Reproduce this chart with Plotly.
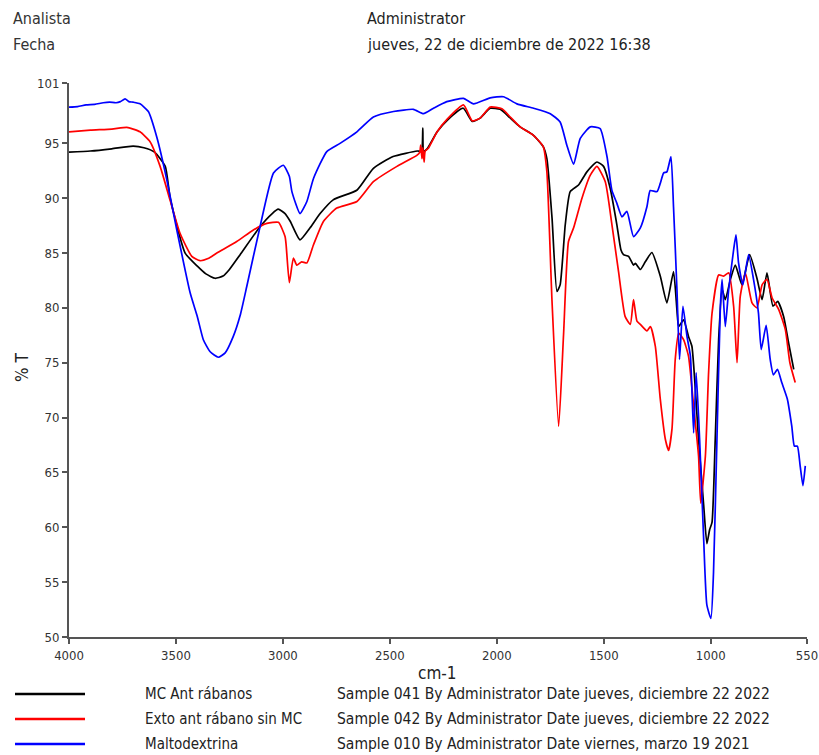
import plotly.graph_objects as go

# ---- FTIR spectra (wavenumber in cm-1, transmittance in %T) ----
mc_wn = [4000, 3900, 3800, 3700, 3650, 3600, 3550, 3527, 3457, 3400, 3360, 3317, 3280, 3250,
         3200, 3107, 3050, 3022, 2990, 2966, 2920, 2873, 2826, 2765, 2653, 2578, 2485, 2372,
         2352, 2346, 2342, 2326, 2279, 2232, 2157, 2115, 2078, 2031, 1984, 1937, 1891, 1830,
         1783, 1766, 1742, 1719, 1704, 1680, 1657, 1618, 1579, 1532, 1501, 1470, 1439, 1420,
         1408, 1384, 1361, 1352, 1329, 1306, 1275, 1236, 1205, 1174, 1158, 1150, 1127, 1104,
         1088, 1057, 1033, 1018, 1005, 994, 979, 963, 947, 932, 908, 885, 854, 818, 784, 760,
         737, 709, 687, 659, 636, 612]
mc_t = [94.2, 94.3, 94.5, 94.75, 94.6, 94.2, 92.9, 90.0, 85.0, 83.8, 83.1, 82.7, 82.9, 83.5,
        84.85, 87.4, 88.6, 89.0, 88.6, 87.9, 86.2, 87.3, 88.6, 89.85, 90.75, 92.7, 93.8, 94.3,
        94.3, 96.4, 94.3, 94.5, 96.05, 97.1, 98.2, 97.0, 97.3, 98.2, 98.1, 97.3, 96.5, 95.75,
        94.7, 93.6, 88.2, 81.5, 82.1, 87.6, 90.6, 91.2, 92.4, 93.3, 92.9, 90.9, 87.6, 85.3,
        84.85, 84.7, 83.9, 84.05, 83.5, 84.2, 85.05, 82.9, 80.45, 83.3, 79.8, 78.3, 78.9, 77.4,
        76.5, 68.0, 62.0, 58.5, 59.8, 60.45, 68.0, 77.1, 81.7, 80.75, 82.6, 83.9, 82.1, 84.85,
        82.7, 80.75, 83.2, 80.15, 80.6, 79.2, 76.8, 74.4]

ext_wn = [4000, 3900, 3800, 3730, 3700, 3668, 3621, 3574, 3528, 3481, 3426, 3387, 3350, 3309,
          3216, 3138, 3075, 3021, 2990, 2985, 2970, 2951, 2935, 2912, 2888, 2857, 2810, 2748,
          2654, 2577, 2467, 2374, 2360, 2356, 2350, 2346, 2340, 2335, 2320, 2279, 2232, 2156,
          2115, 2078, 2031, 1976, 1937, 1891, 1830, 1783, 1766, 1742, 1711, 1688, 1665, 1641,
          1602, 1563, 1532, 1493, 1462, 1431, 1400, 1376, 1361, 1345, 1329, 1298, 1282, 1259,
          1236, 1212, 1197, 1181, 1166, 1150, 1127, 1104, 1080, 1057, 1047, 1025, 1010, 994,
          963, 940, 916, 893, 877, 862, 838, 807, 784, 760, 737, 713, 682, 651, 630, 605]
ext_t = [96.05, 96.2, 96.3, 96.45, 96.3, 96.05, 95.15, 92.9, 89.85, 86.8, 84.7, 84.3, 84.5, 85.0,
         86.05, 87.1, 87.7, 87.8, 86.5, 85.75, 82.3, 84.55, 83.9, 84.2, 84.1, 85.75, 87.9, 89.1,
         89.7, 91.5, 92.9, 93.9, 94.2, 94.85, 93.6, 94.6, 93.3, 94.3, 94.55, 96.05, 97.2, 98.5,
         97.05, 97.3, 98.3, 98.15, 97.4, 96.5, 95.75, 94.7, 92.4, 80.6, 69.2, 77.6, 86.05, 87.3,
         90.0, 92.1, 92.9, 91.5, 87.6, 83.3, 79.2, 78.5, 80.75, 78.8, 78.5, 77.9, 78.3, 76.5,
         71.7, 68.0, 67.0, 69.0, 75.3, 77.7, 77.1, 75.6, 71.05, 66.5, 62.2, 66.5, 74.1, 79.5,
         83.0, 82.9, 83.2, 80.15, 75.0, 81.05, 83.2, 80.45, 80.0, 82.1, 82.6, 80.9, 79.85, 78.0,
         75.0, 73.2]

malto_wn = [4000, 3960, 3920, 3880, 3840, 3810, 3780, 3760, 3738, 3720, 3700, 3668, 3629, 3590,
            3543, 3496, 3434, 3400, 3372, 3340, 3302, 3270, 3232, 3200, 3169, 3107, 3044, 2998,
            2970, 2958, 2920, 2888, 2857, 2795, 2733, 2654, 2577, 2483, 2390, 2343, 2296, 2234,
            2156, 2109, 2031, 1969, 1906, 1828, 1750, 1704, 1673, 1641, 1610, 1563, 1517, 1485,
            1462, 1439, 1415, 1392, 1361, 1329, 1298, 1283, 1251, 1236, 1220, 1205, 1186, 1174,
            1158, 1146, 1130, 1111, 1095, 1080, 1068, 1052, 1033, 1018, 999, 987, 971, 955, 947,
            932, 916, 893, 882, 870, 850, 823, 800, 777, 764, 741, 722, 707, 688, 668, 642, 621,
            609, 595, 582, 569, 558]
malto_t = [98.3, 98.35, 98.5, 98.55, 98.7, 98.75, 98.7, 98.8, 99.05, 98.8, 98.75, 98.6, 97.9, 95.6,
           91.7, 87.1, 81.4, 79.2, 77.1, 76.0, 75.5, 75.9, 77.4, 79.3, 81.95, 87.4, 92.3, 93.0,
           92.0, 90.6, 88.6, 89.7, 91.8, 94.25, 95.0, 96.05, 97.4, 97.9, 98.1, 97.7, 98.2, 98.8,
           99.1, 98.6, 99.15, 99.25, 98.6, 98.2, 97.7, 96.95, 94.85, 93.1, 95.45, 96.5, 96.35,
           93.8, 90.7, 89.55, 88.3, 88.8, 86.5, 87.3, 89.25, 90.7, 90.6, 91.35, 92.3, 92.4, 93.8,
           89.2, 81.7, 75.3, 80.15, 77.4, 75.6, 68.6, 74.1, 68.0, 58.9, 52.9, 51.7, 55.9, 68.0,
           80.15, 82.6, 78.3, 81.7, 85.3, 86.65, 84.1, 82.1, 84.85, 82.6, 79.55, 76.2, 78.4, 75.3,
           73.9, 74.4, 73.2, 71.7, 69.2, 67.4, 67.4, 65.6, 63.8, 65.6]

series_names = ["MC Ant rábanos", "Exto ant rábano sin MC", "Maltodextrina"]
series_info = [
    "Sample 041 By Administrator Date jueves, diciembre 22 2022",
    "Sample 042 By Administrator Date jueves, diciembre 22 2022",
    "Sample 010 By Administrator Date viernes, marzo 19 2021",
]
series_colors = ["#000000", "#ff0000", "#0000ff"]

x_tickvals = [4000, 3500, 3000, 2500, 2000, 1500, 1000, 550]
y_tickvals = [50, 55, 60, 65, 70, 75, 80, 85, 90, 95, 100.5]
y_ticktext = ["50", "55", "60", "65", "70", "75", "80", "85", "90", "95", "101"]

header_left = ["Analista", "Fecha"]
header_right = ["Administrator", "jueves, 22 de diciembre de 2022 16:38"]

FONT = "DejaVu Sans Condensed, Liberation Sans Narrow, Arial Narrow, sans-serif"
W, H = 819, 755
L, R, T, B = 69, 12, 83, 118
PW, PH = W - L - R, H - T - B


def px(xp):
    return (xp - L) / PW


def py(yp):
    return (H - B - yp) / PH


def label(text, x, y, size, **kw):
    return dict(text=text, x=px(x), y=py(y), xref="paper", yref="paper",
                xanchor=kw.pop("xanchor", "left"), yanchor="middle", showarrow=False,
                font=dict(size=size, color=kw.pop("color", "#222222"), family=FONT), **kw)


fig = go.Figure()
for wn, tr, name, col in zip([mc_wn, ext_wn, malto_wn], [mc_t, ext_t, malto_t],
                             series_names, series_colors):
    fig.add_trace(go.Scatter(x=wn, y=tr, mode="lines", name=name,
                             line=dict(color=col, width=1.7, shape="spline", smoothing=0.5),
                             showlegend=False))

annotations = []
shapes = []
for i, (a, b) in enumerate(zip(header_left, header_right)):
    yy = 18 + i * 26
    annotations.append(label(a, 11, yy, 16, color="#333333"))
    annotations.append(label(b, 365, yy, 16))

for i, (name, info, col) in enumerate(zip(series_names, series_info, series_colors)):
    yy = 694 + i * 25
    shapes.append(dict(type="line", xref="paper", yref="paper", x0=px(15), x1=px(85),
                       y0=py(yy), y1=py(yy), line=dict(color=col, width=2.5)))
    annotations.append(label(name, 143, yy, 15))
    annotations.append(label(info, 335, yy, 15.5))

# axis titles
annotations.append(label("cm-1", 437, 673, 17, xanchor="center"))
annotations.append(label("% T", 22, 368, 17, xanchor="center", textangle=-90))

fig.update_layout(
    width=W, height=H,
    margin=dict(l=L, r=R, t=T, b=B),
    paper_bgcolor="white", plot_bgcolor="white",
    font=dict(family=FONT, color="#333333"),
    annotations=annotations, shapes=shapes,
    xaxis=dict(range=[4000, 550], tickvals=x_tickvals, ticktext=[str(v) for v in x_tickvals],
               showgrid=False, zeroline=False, showline=True, linecolor="#555555", linewidth=2,
               ticks="outside", ticklen=5, tickcolor="#555555", tickwidth=1.5, automargin=False,
               tickfont=dict(size=13, color="#333333", family=FONT)),
    yaxis=dict(range=[50, 100.5], tickvals=y_tickvals, ticktext=y_ticktext,
               showgrid=False, zeroline=False, showline=True, linecolor="#555555", linewidth=2,
               ticks="outside", ticklen=5, tickcolor="#555555", tickwidth=1.5, automargin=False,
               tickfont=dict(size=13, color="#333333", family=FONT)),
)

fig.write_html("out.html")
